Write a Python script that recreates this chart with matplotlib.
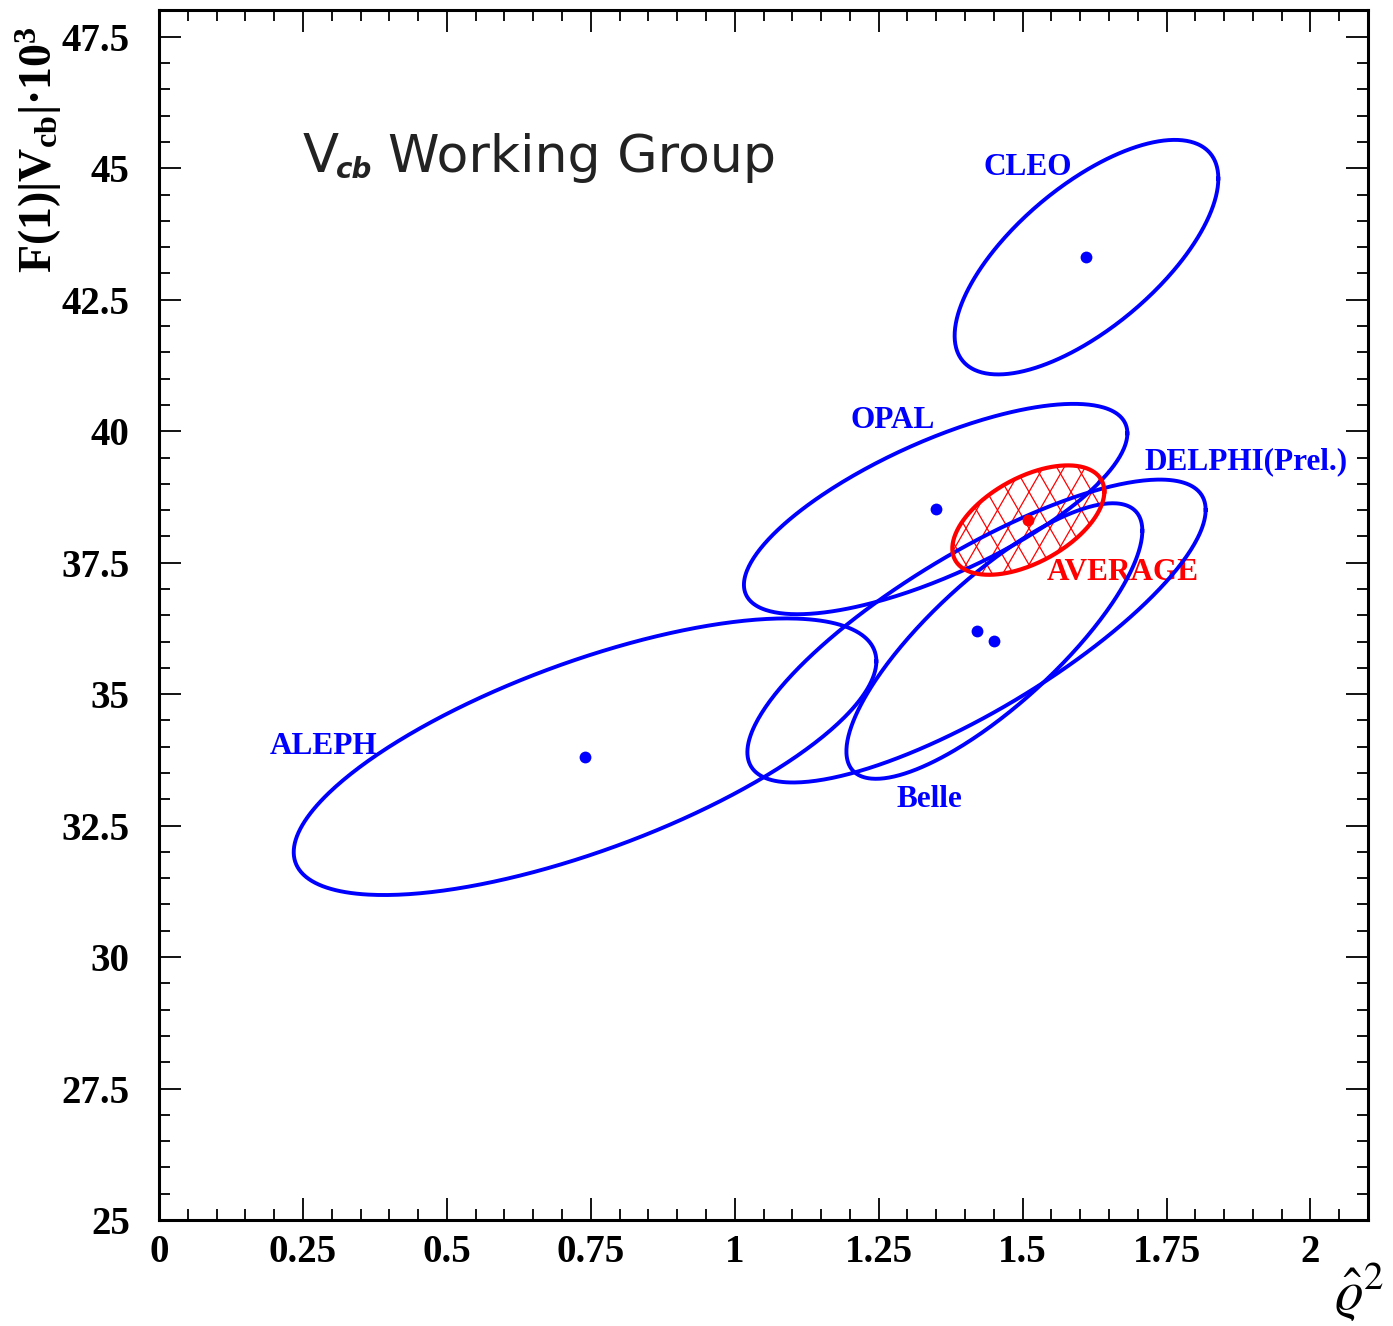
import numpy as np
import matplotlib
matplotlib.use('Agg')
import matplotlib.pyplot as plt
from matplotlib.patches import Polygon
from matplotlib.collections import LineCollection
from matplotlib.ticker import MultipleLocator, FuncFormatter

# ---------------- data ----------------
experiments = ['ALEPH', 'OPAL', 'DELPHI(Prel.)', 'Belle', 'CLEO']
rho2_central = [0.740, 1.349, 1.420, 1.451, 1.611]
vcb_central = [33.81, 38.52, 36.20, 36.01, 43.31]
rho2_err = [0.506, 0.333, 0.398, 0.257, 0.229]
vcb_err = [2.63, 2.00, 2.88, 2.62, 2.23]
correlation = [0.69, 0.72, 0.80, 0.80, 0.67]

avg_rho2 = 1.510
avg_vcb = 38.31
avg_rho2_err = 0.132
avg_vcb_err = 1.04
avg_corr = 0.52

x_ticks = [0, 0.25, 0.5, 0.75, 1, 1.25, 1.5, 1.75, 2]
y_ticks = [25, 27.5, 30, 32.5, 35, 37.5, 40, 42.5, 45, 47.5]

# label placement (text positions, data coords)
label_pos = {'ALEPH': (0.193, 34.0), 'OPAL': (1.201, 40.2),
             'DELPHI(Prel.)': (1.712, 39.42), 'Belle': (1.281, 32.99),
             'CLEO': (1.432, 45.01), 'AVERAGE': (1.542, 37.31)}

BLUE = '#0000ff'
RED = '#ff0000'

plt.rcParams['mathtext.fontset'] = 'custom'
plt.rcParams['mathtext.rm'] = 'Liberation Serif:bold'
plt.rcParams['mathtext.bf'] = 'Liberation Serif:bold'
plt.rcParams['mathtext.it'] = 'Liberation Serif:italic:bold'

W, H = 1393, 1326
fig = plt.figure(figsize=(W / 100, H / 100), dpi=100)
ax = fig.add_axes([159 / W, 1 - 1220 / H, (1368 - 159) / W, (1220 - 10) / H])
ax.set_xlim(0, 2.1)
ax.set_ylim(25, 48.01)


def ellipse_xy(x0, y0, sx, sy, r, n=400):
    t = np.linspace(0, 2 * np.pi, n)
    x = x0 + sx * np.cos(t)
    y = y0 + sy * (r * np.cos(t) + np.sqrt(1 - r * r) * np.sin(t))
    return np.column_stack([x, y])


# average: hatched region
avg_xy = ellipse_xy(avg_rho2, avg_vcb, avg_rho2_err, avg_vcb_err, avg_corr)
clip = Polygon(avg_xy, closed=True, facecolor='none', edgecolor='none')
ax.add_patch(clip)
m = np.tan(np.radians(60))
d = 21.0 / 1209
segs = []
for c in np.arange(-1.0, 1.6, d):
    segs.append([(c, 0), (c + 1 / m, 1)])
    segs.append([(c, 0), (c - 1 / m, 1)])
lc = LineCollection(segs, colors=RED, linewidths=0.9, transform=ax.transAxes)
ax.add_collection(lc)
lc.set_clip_path(clip)

# experiment ellipses
for i, name in enumerate(experiments):
    xy = ellipse_xy(rho2_central[i], vcb_central[i], rho2_err[i], vcb_err[i], correlation[i])
    ax.plot(xy[:, 0], xy[:, 1], color=BLUE, lw=2.8, zorder=3)
    ax.plot(rho2_central[i], vcb_central[i], 'o', color=BLUE, ms=8.5, mec='none', zorder=4)
    lx, ly = label_pos[name]
    ax.text(lx, ly, name, color=BLUE, fontsize=22.5, fontfamily='Liberation Serif',
            fontweight='bold', ha='left', va='center', zorder=5)

ax.plot(avg_xy[:, 0], avg_xy[:, 1], color=RED, lw=3.0, zorder=6)
ax.plot(avg_rho2, avg_vcb, 'o', color=RED, ms=8.5, mec='none', zorder=6)
lx, ly = label_pos['AVERAGE']
ax.text(lx, ly, 'AVERAGE', color=RED, fontsize=22.5, fontfamily='Liberation Serif',
        fontweight='bold', ha='left', va='center', zorder=2)

# axes styling
for s in ax.spines.values():
    s.set_linewidth(2.2)
ax.set_xticks(x_ticks)
ax.set_yticks(y_ticks)
ax.xaxis.set_minor_locator(MultipleLocator(0.05))
ax.yaxis.set_minor_locator(MultipleLocator(0.5))
fmt = FuncFormatter(lambda v, p: '%g' % v)
ax.xaxis.set_major_formatter(fmt)
ax.yaxis.set_major_formatter(fmt)
ax.tick_params(which='both', direction='in', top=True, right=True, width=1.3)
ax.tick_params(which='major', length=16)
ax.tick_params(which='minor', length=8)
ax.tick_params(axis='x', which='major', pad=10)
ax.tick_params(axis='y', which='major', pad=21)
for lab in ax.get_xticklabels() + ax.get_yticklabels():
    lab.set_fontfamily('Liberation Serif')
    lab.set_fontweight('bold')
    lab.set_fontsize(28)

# axis titles
fig.text(39 / W, 1 - 26 / H, r'$\mathrm{F(1)|V_{cb}|}$·$\mathrm{10^{3}}$', rotation=90,
         ha='center', va='top', fontsize=33, math_fontfamily='custom',
         fontfamily='Liberation Serif', fontweight='bold')
fig.text(1384 / W, 1 - 1324 / H, r'$\hat{\varrho}^{2}$', ha='right', va='bottom',
         fontsize=40, math_fontfamily='stix')

# group logo
fig.text(303 / W, 1 - 172 / H, 'V', fontsize=38, fontfamily='DejaVu Sans',
         color='#222222', ha='left', va='baseline')
fig.text(336 / W, 1 - 178 / H, 'cb', fontsize=20, fontfamily='DejaVu Sans',
         fontweight='bold', fontstyle='italic', color='#222222', ha='left', va='baseline')
fig.text(388 / W, 1 - 172 / H, 'Working Group', fontsize=37.5, fontfamily='DejaVu Sans',
         color='#222222', ha='left', va='baseline')

fig.savefig('out.png', dpi=100)
